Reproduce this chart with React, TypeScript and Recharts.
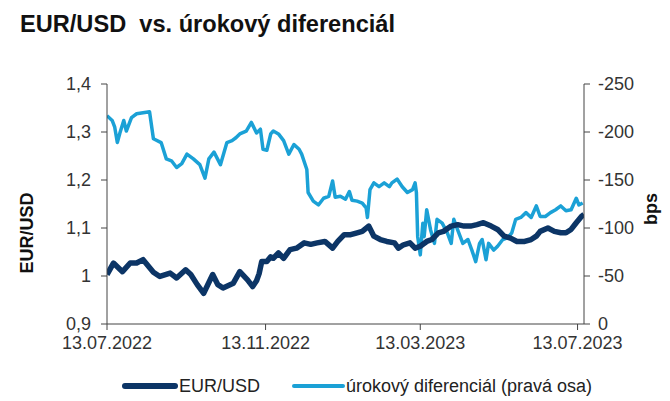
import { LineChart, Line, XAxis, YAxis } from 'recharts';

// days since 13.07.2022
const eurUsdDays = [
  0, 5, 12, 18, 23, 28, 36, 41, 49, 54,
  61, 65, 70, 75, 82, 86, 90, 98, 103, 109,
  113, 116, 118, 120, 124, 127, 129, 133, 137, 142,
  147, 153, 158, 163, 169, 175, 179, 184, 189, 194,
  198, 203, 207, 212, 217, 223, 226, 230, 235, 239,
  243, 248, 252, 257, 261, 267, 272, 277, 282, 287,
  292, 298, 303, 308, 313, 318, 324, 329, 333, 336,
  342, 347, 352, 356, 360, 364, 368, 370,
];
const eurUsdValues = [
  1.003, 1.027, 1.009, 1.027, 1.027, 1.034, 1.008, 0.999, 1.006, 0.996,
  1.013, 1.003, 0.982, 0.964, 1.003, 0.982, 0.975, 0.985, 1.009, 0.992,
  0.978, 0.99, 1.005, 1.03, 1.03, 1.04, 1.037, 1.048, 1.037, 1.055,
  1.058, 1.069, 1.066, 1.069, 1.072, 1.058, 1.072, 1.086, 1.086, 1.09,
  1.093, 1.104, 1.083, 1.076, 1.072, 1.069, 1.058, 1.065, 1.069, 1.058,
  1.062, 1.072, 1.076, 1.09, 1.093, 1.104, 1.107, 1.104, 1.104, 1.107,
  1.111, 1.104, 1.097, 1.083, 1.079, 1.072, 1.072, 1.076, 1.083, 1.093,
  1.1, 1.093, 1.09, 1.09, 1.097, 1.111, 1.124, 1.128,
];

const diffDays = [
  0, 4, 6, 8, 10, 13, 15, 19, 23, 28,
  33, 36, 42, 46, 50, 54, 58, 62, 67, 72,
  76, 79, 83, 88, 93, 97, 100, 103, 108, 112,
  116, 119, 121, 124, 127, 129, 133, 137, 141, 145,
  149, 151, 155, 156, 160, 164, 168, 172, 175, 177,
  181, 185, 188, 190, 194, 198, 201, 202, 204, 207,
  211, 215, 219, 221, 225, 229, 233, 237, 239, 240,
  241, 243, 245, 246, 248, 251, 254, 256, 260, 264,
  267, 269, 272, 276, 280, 283, 286, 289, 291, 294,
  296, 300, 303, 307, 311, 314, 317, 321, 325, 329,
  333, 336, 340, 344, 348, 352, 356, 360, 364, 366,
  369,
];
const diffValues = [
  -217, -212, -205, -189, -199, -212, -201, -215, -219, -220,
  -221, -193, -189, -172, -170, -163, -167, -177, -172, -166,
  -152, -172, -179, -166, -189, -191, -194, -198, -201, -210,
  -199, -203, -182, -181, -198, -201, -198, -191, -177, -187,
  -182, -177, -161, -137, -128, -124, -131, -133, -149, -132,
  -133, -130, -138, -129, -128, -126, -121, -111, -140, -147,
  -143, -147, -143, -147, -151, -143, -137, -140, -147, -137,
  -91, -72, -105, -91, -119, -98, -84, -109, -105, -95,
  -84, -109, -98, -84, -88, -77, -65, -84, -88, -67,
  -84, -77, -81, -88, -90, -95, -109, -111, -116, -111,
  -123, -112, -112, -116, -119, -123, -118, -119, -131, -124,
  -126,
];

const xTicks = [0, 123, 243, 365];
const xTickLabels = ['13.07.2022', '13.11.2022', '13.03.2023', '13.07.2023'];
const leftTicks = [0.9, 1, 1.1, 1.2, 1.3, 1.4];
const rightTicks = [0, -50, -100, -150, -200, -250];

const eurUsdData = eurUsdDays.map((day, i) => ({ day, v: eurUsdValues[i] }));
const diffData = diffDays.map((day, i) => ({ day, v: diffValues[i] }));

const FONT = '"Liberation Sans", Arial, sans-serif';
const DARK = '#0c3566';
const LIGHT = '#1ba1d6';
const tickStyle = { fontSize: 18, fill: '#333', fontFamily: FONT };

export default function App() {
  return (
    <div style={{ position: 'absolute', left: 0, top: 0, width: 670, height: 401, background: '#fff', fontFamily: FONT }}>
      <div style={{ position: 'absolute', left: 20, top: 13, fontSize: 23.6, lineHeight: '23px', fontWeight: 'bold', color: '#111', whiteSpace: 'pre' }}>
        EUR/USD  vs. úrokový diferenciál
      </div>

      <LineChart width={670} height={401} margin={{ top: 84, left: 47, right: 26, bottom: 37 }}>
        <XAxis
          dataKey="day"
          type="number"
          domain={[0, 370]}
          ticks={xTicks}
          tickFormatter={(d: number) => xTickLabels[xTicks.indexOf(d)] ?? ''}
          tick={tickStyle}
          tickSize={6}
          tickMargin={6}
          height={40}
          stroke="#444"
          allowDataOverflow
        />
        <YAxis
          yAxisId="left"
          domain={[0.9, 1.4]}
          ticks={leftTicks}
          tickFormatter={(v: number) => (v === 1 ? '1' : v.toFixed(1).replace('.', ','))}
          tick={tickStyle}
          tickSize={6}
          tickMargin={10}
          width={60}
          stroke="#444"
          allowDataOverflow
        />
        <YAxis
          yAxisId="right"
          orientation="right"
          reversed
          domain={[-250, 0]}
          ticks={rightTicks}
          tick={tickStyle}
          tickSize={6}
          tickMargin={8}
          width={60}
          stroke="#444"
          allowDataOverflow
        />
        <Line
          yAxisId="right"
          data={diffData}
          dataKey="v"
          type="linear"
          stroke={LIGHT}
          strokeWidth={3.5}
          strokeLinejoin="round"
          dot={false}
          activeDot={false}
          isAnimationActive={false}
        />
        <Line
          yAxisId="left"
          data={eurUsdData}
          dataKey="v"
          type="linear"
          stroke={DARK}
          strokeWidth={5.5}
          strokeLinejoin="round"
          dot={false}
          activeDot={false}
          isAnimationActive={false}
        />
      </LineChart>

      <div style={{ position: 'absolute', left: 27, top: 233, transform: 'translate(-50%, -50%) rotate(-90deg)', fontSize: 18, fontWeight: 'bold', color: '#111', whiteSpace: 'nowrap' }}>
        EUR/USD
      </div>
      <div style={{ position: 'absolute', left: 651, top: 209, transform: 'translate(-50%, -50%) rotate(-90deg)', fontSize: 18, fontWeight: 'bold', color: '#111', whiteSpace: 'nowrap' }}>
        bps
      </div>

      <div style={{ position: 'absolute', left: 122, top: 383, width: 56, height: 6, borderRadius: 3, background: DARK }} />
      <div style={{ position: 'absolute', left: 179, top: 376, fontSize: 18, lineHeight: '20px', color: '#222' }}>EUR/USD</div>
      <div style={{ position: 'absolute', left: 292, top: 384, width: 53, height: 4, borderRadius: 2, background: LIGHT }} />
      <div style={{ position: 'absolute', left: 346, top: 376, fontSize: 18, lineHeight: '20px', color: '#222' }}>úrokový diferenciál (pravá osa)</div>
    </div>
  );
}
